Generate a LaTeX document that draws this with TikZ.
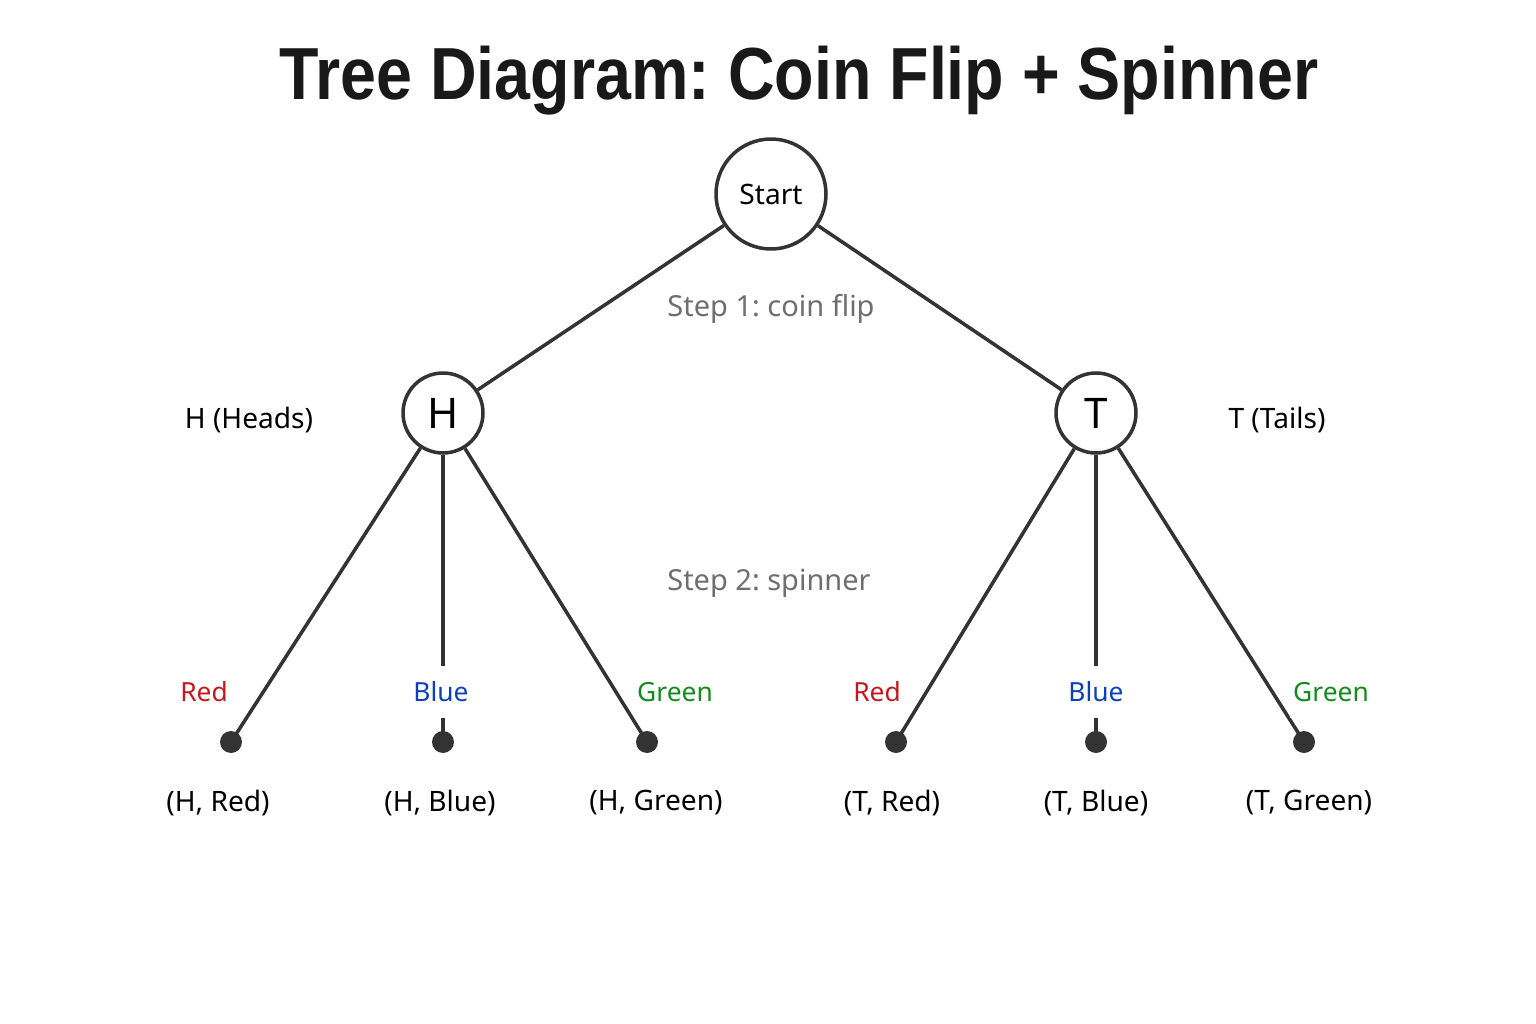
\documentclass[tikz,border=0pt]{standalone}
\usepackage{fontspec}
\setmainfont{Noto Sans}
\newfontfamily\titlefont{Liberation Sans}
\frenchspacing
\definecolor{edgegray}{HTML}{333333}
\definecolor{stepgray}{HTML}{6E6E6E}
\definecolor{cred}{HTML}{C8161E}
\definecolor{cblue}{HTML}{0B3FC0}
\definecolor{cgreen}{HTML}{138A1E}
\begin{document}
\begin{tikzpicture}[
        x=0.02cm, y=-0.02cm,
        font=\fontsize{16}{19}\selectfont,
        root/.style   ={draw=edgegray, circle, line width=2pt, minimum size=2.2cm, inner sep=0pt, fill=white},
        coin/.style   ={draw=edgegray, circle, line width=2pt, minimum size=1.6cm, inner sep=0pt, fill=white,
                        font=\fontsize{24}{28}\selectfont},
        leaf/.style   ={circle, fill=edgegray, minimum size=0.44cm, inner sep=0pt},
        steplbl/.style={text=stepgray, font=\fontsize{16.5}{20}\selectfont},
        colorlbl/.style={fill=white, minimum height=1.05cm, inner sep=2pt, font=\fontsize{15}{18}\selectfont},
        branch/.style ={draw=edgegray, line width=2pt},
    ]
    \useasboundingbox (0,0) rectangle (1536,1024);

    %% Title
    \node[font=\titlefont\fontsize{42}{48}\selectfont\bfseries, text=black!90] (title) at (799,81)
        {\scalebox{0.875}[1]{Tree Diagram: Coin Flip + Spinner}};

    %% Root and coin outcomes
    \node[root] (start) at (771,194) {Start};
    \node[coin] (H) at (443,413) {H};
    \node[coin] (T) at (1096,413) {T};

    \node (Hlbl) at (249,420) {H (Heads)};
    \node (Tlbl) at (1277,420) {T (Tails)};

    %% Spinner outcomes (leaves)
    \node[leaf] (HR) at (231,742) {};
    \node[leaf] (HB) at (443,742) {};
    \node[leaf] (HG) at (647,742) {};
    \node[leaf] (TR) at (896,742) {};
    \node[leaf] (TB) at (1096,742) {};
    \node[leaf] (TG) at (1304,742) {};

    %% Branches
    \draw[branch] (start) -- (H);
    \draw[branch] (start) -- (T);
    \foreach \c in {H, T}
        \foreach \s in {R, B, G}
            \draw[branch] (\c) -- (\c\s.center);

    %% Step labels
    \node[steplbl] (step1) at (771,309) {Step 1: coin flip};
    \node[steplbl] (step2) at (769,583) {Step 2: spinner};

    %% Spinner colour labels
    \node[colorlbl, text=cred]   (HRlbl) at (204,692)  {Red};
    \node[colorlbl, text=cblue]  (HBlbl) at (441,692)  {Blue};
    \node[colorlbl, text=cgreen] (HGlbl) at (675,692)  {Green};
    \node[colorlbl, text=cred]   (TRlbl) at (877,692)  {Red};
    \node[colorlbl, text=cblue]  (TBlbl) at (1096,692) {Blue};
    \node[colorlbl, text=cgreen] (TGlbl) at (1331,692) {Green};

    %% Outcome pairs
    \node (HRout) at (218,803)  {(H, Red)};
    \node (HBout) at (440,803)  {(H, Blue)};
    \node (HGout) at (656,803)  {(H, Green)};
    \node (TRout) at (892,803)  {(T, Red)};
    \node (TBout) at (1096,803) {(T, Blue)};
    \node (TGout) at (1309,803) {(T, Green)};
\end{tikzpicture}
\end{document}
